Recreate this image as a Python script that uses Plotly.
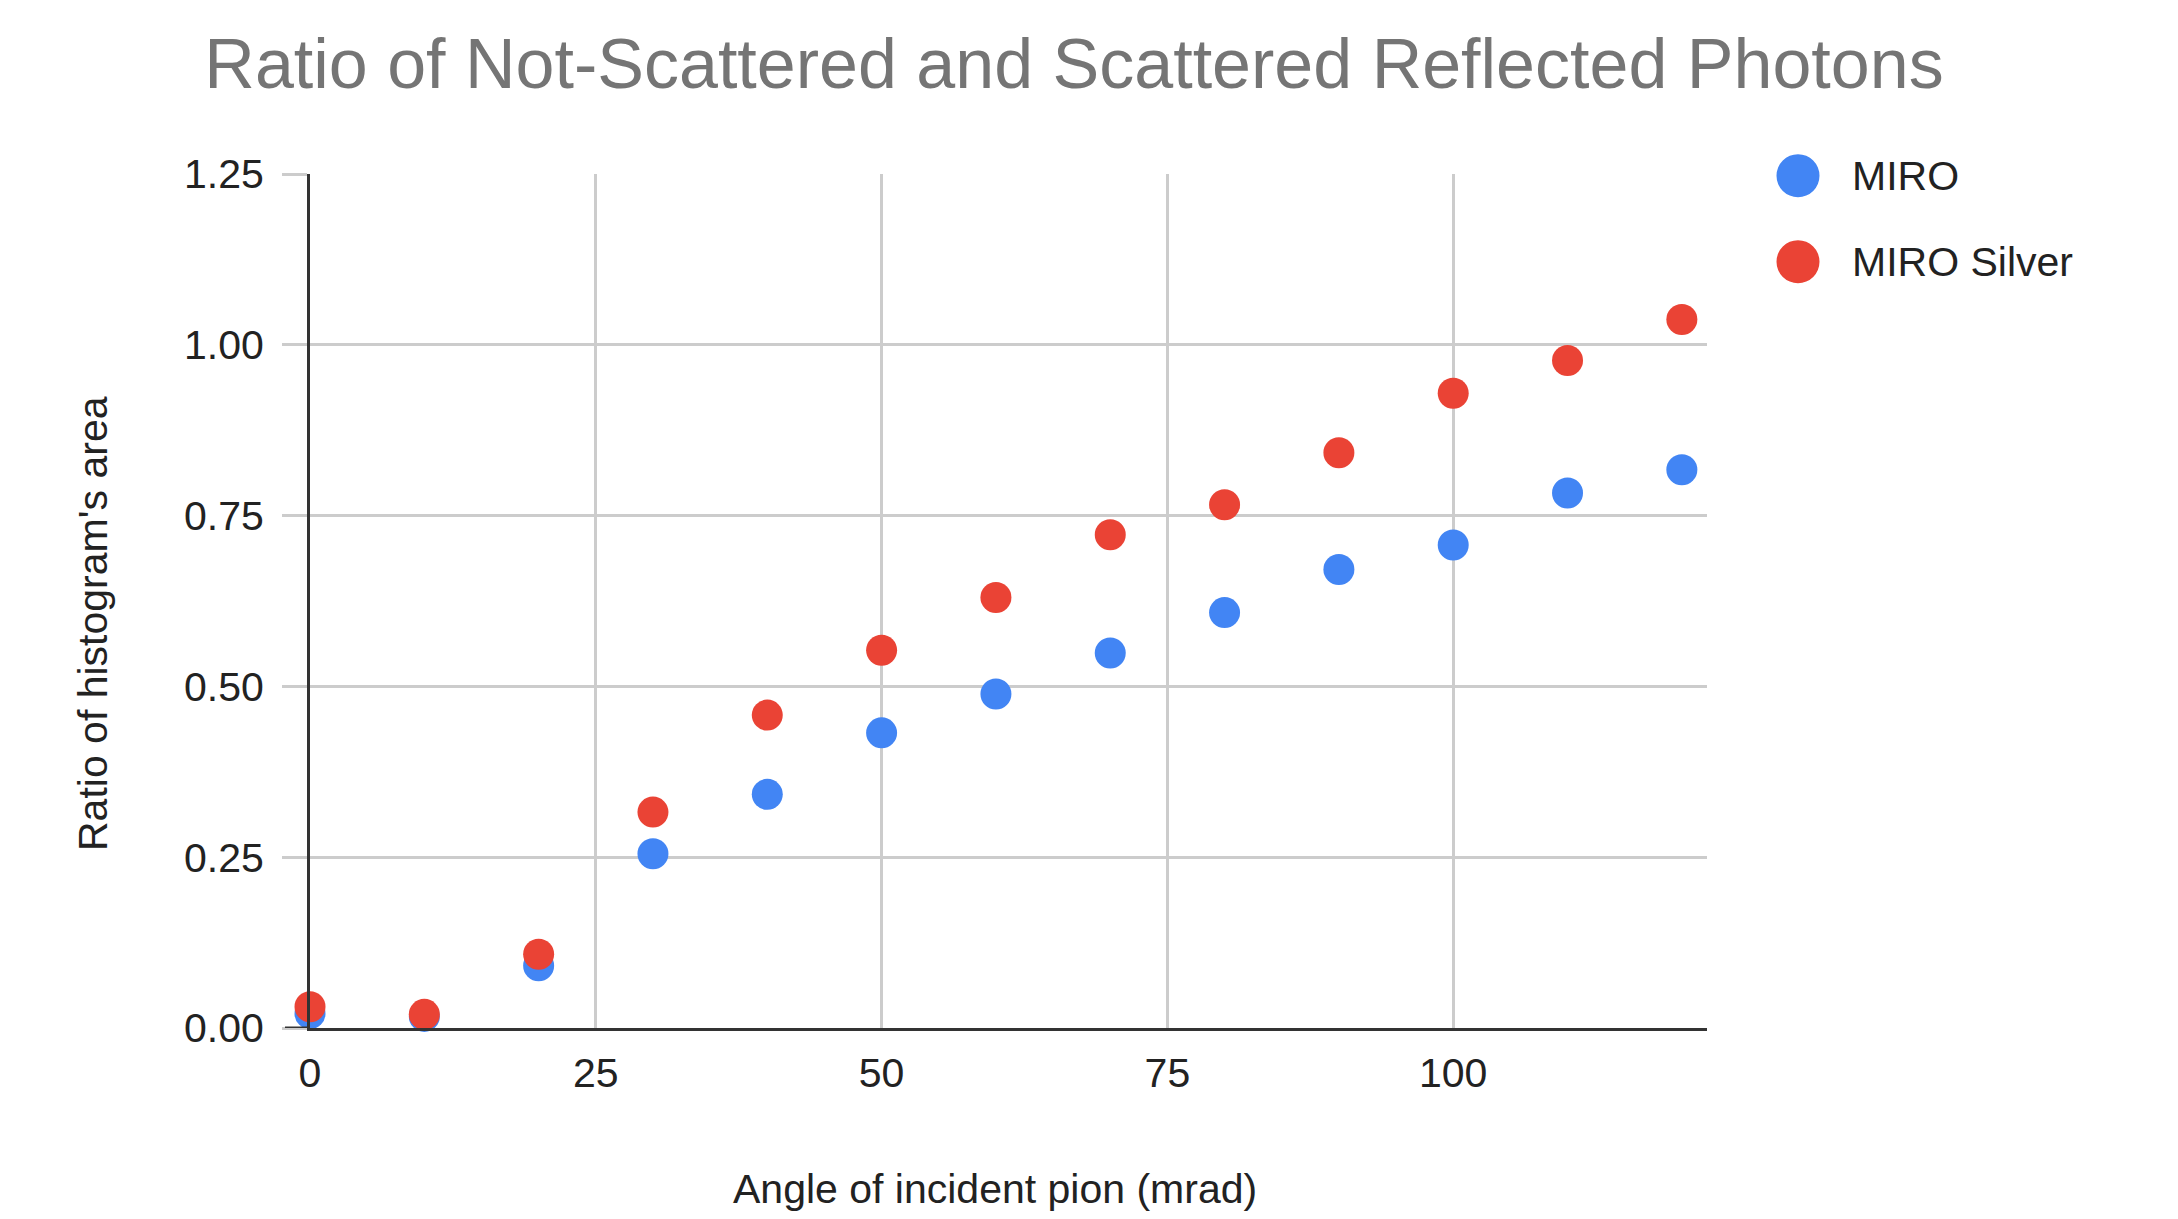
import plotly.graph_objects as go

# Angle of the incident pion (mrad) and the measured area ratios
angles = [0, 10, 20, 30, 40, 50, 60, 70, 80, 90, 100, 110, 120]
miro = [0.021, 0.017, 0.091, 0.255, 0.342, 0.432, 0.489, 0.549, 0.608, 0.671, 0.707, 0.783, 0.817]
miro_silver = [0.031, 0.020, 0.108, 0.316, 0.458, 0.553, 0.630, 0.722, 0.766, 0.842, 0.929, 0.977, 1.037]

series_names = ["MIRO", "MIRO Silver"]
series_colors = ["#4285F4", "#EA4335"]

x_ticks = [0, 25, 50, 75, 100]
y_ticks = [0, 0.25, 0.5, 0.75, 1.0, 1.25]
y_tick_labels = ["0.00", "0.25", "0.50", "0.75", "1.00", "1.25"]

title_text = "Ratio of Not-Scattered and Scattered Reflected Photons"
x_title = "Angle of incident pion (mrad)"
y_title = "Ratio of histogram's area"

# Canvas and plot-area geometry (pixels)
W, H = 2178, 1219
L, R, T, B = 310, 471, 174, 191
PW, PH = W - L - R, H - T - B

FONT = "Liberation Sans, Arial, sans-serif"
TEXT = "#222222"
GRID = "#cccccc"
AXIS = "#333333"


def px_x(px):
    return (px - L) / PW


def px_y(py):
    return (H - B - py) / PH


fig = go.Figure()
for name, color, values in zip(series_names, series_colors, [miro, miro_silver]):
    fig.add_trace(go.Scatter(
        x=angles, y=values, name=name, mode="markers",
        marker=dict(size=31, color=color, line=dict(width=0)),
        cliponaxis=False, showlegend=False,
    ))

fig.update_layout(
    width=W, height=H,
    margin=dict(l=L, r=R, t=T, b=B, autoexpand=False),
    paper_bgcolor="white", plot_bgcolor="white",
    font=dict(family=FONT, color=TEXT, size=41),
    title=dict(
        text=title_text, xref="container", yref="container",
        x=1074 / W, y=1 - 63 / H, xanchor="center", yanchor="middle",
        font=dict(family=FONT, size=70, color="#757575"),
    ),
    xaxis=dict(
        range=[0, 122.2], tickvals=x_ticks, showgrid=True, gridcolor=GRID, gridwidth=3,
        zeroline=False, showline=True, linecolor=AXIS, linewidth=3,
        ticks="", tickfont=dict(size=41, color=TEXT), ticklabelstandoff=7,
    ),
    yaxis=dict(
        range=[0, 1.25], tickvals=y_ticks, ticktext=y_tick_labels,
        showgrid=True, gridcolor=GRID, gridwidth=3,
        zeroline=False, showline=True, linecolor=AXIS, linewidth=3,
        ticks="outside", ticklen=25, tickcolor=GRID, tickwidth=3,
        tickfont=dict(size=41, color=TEXT), ticklabelstandoff=10,
    ),
)

# dark tick continuing the baseline to the left of the plot
fig.add_shape(type="line", xref="x domain", yref="y", xsizemode="pixel", xanchor=0,
              x0=-25, x1=0, y0=0, y1=0, line=dict(color=AXIS, width=3))

# axis titles
fig.add_annotation(text=x_title, xref="paper", yref="paper", x=px_x(995), y=px_y(1189),
                   xanchor="center", yanchor="middle", showarrow=False,
                   font=dict(size=41, color=TEXT, family=FONT))
fig.add_annotation(text=y_title, xref="paper", yref="paper", x=px_x(93), y=px_y(624),
                   xanchor="center", yanchor="middle", textangle=-90, showarrow=False,
                   font=dict(size=41, color=TEXT, family=FONT))

# legend entries
legend_rows = [175.7, 261.7]
for name, color, row in zip(series_names, series_colors, legend_rows):
    fig.add_shape(type="circle", xref="paper", yref="paper",
                  xsizemode="pixel", ysizemode="pixel",
                  xanchor=px_x(1798), yanchor=px_y(row),
                  x0=-21.5, x1=21.5, y0=-21.5, y1=21.5,
                  fillcolor=color, line=dict(width=0))
    fig.add_annotation(text=name, xref="paper", yref="paper", x=px_x(1850), y=px_y(row),
                       xanchor="left", yanchor="middle", showarrow=False,
                       font=dict(size=41, color=TEXT, family=FONT))

fig.write_html("out.html")
